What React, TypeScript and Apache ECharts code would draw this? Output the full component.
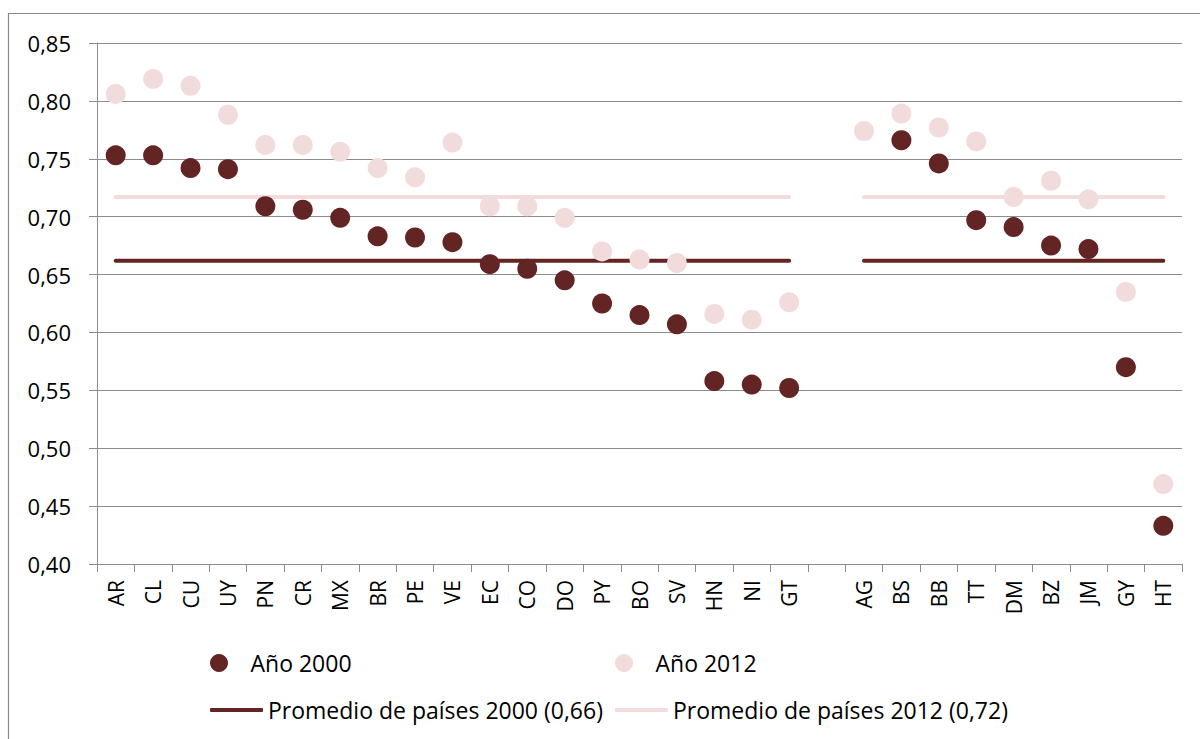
import React, { useEffect, useRef } from "react";
import * as echarts from "echarts";

const categories = ["AR","CL","CU","UY","PN","CR","MX","BR","PE","VE","EC","CO","DO","PY","BO","SV","HN","NI","GT","","AG","BS","BB","TT","DM","BZ","JM","GY","HT"];
const year2000 = [0.753,0.753,0.742,0.741,0.709,0.706,0.699,0.683,0.682,0.678,0.659,0.655,0.645,0.625,0.615,0.607,0.558,0.555,0.552,null,null,0.766,0.746,0.697,0.691,0.675,0.672,0.570,0.433];
const year2012 = [0.806,0.819,0.813,0.788,0.762,0.762,0.756,0.742,0.734,0.764,0.709,0.709,0.699,0.670,0.663,0.660,0.616,0.611,0.626,null,0.774,0.789,0.777,0.765,0.717,0.731,0.715,0.635,0.469];
const avg2000 = 0.662;
const avg2012 = 0.717;
const seriesNames = ["Año 2000", "Año 2012", "Promedio de países 2000 (0,66)", "Promedio de países 2012 (0,72)"];

const DARK = "#632523";
const LIGHT = "#F2DCDB";
const GRID = "#8c8c8c";
const FONT = "Open Sans";

export default function App() {
  const ref = useRef<HTMLDivElement>(null);
  useEffect(() => {
    document.body.style.margin = "0";
    const chart = echarts.init(ref.current!, null, { renderer: "svg" });
    const avgLine = (v: number) => categories.map((c) => (c === "" ? null : v));
    const legendBase = {
      padding: 0,
      selectedMode: false,
      itemWidth: 53,
      itemHeight: 18,
      textStyle: { fontFamily: FONT, fontSize: 23, color: "#000", lineHeight: 24 },
    };
    chart.setOption({
      animation: false,
      textStyle: { fontFamily: FONT },
      graphic: [
        {
          type: "rect",
          shape: { x: 8.5, y: 13.5, width: 1200, height: 740 },
          style: { fill: "none", stroke: "#8a8a8a", lineWidth: 1.2 },
          silent: true,
        },
      ],
      legend: [
        { ...legendBase, data: [{ name: seriesNames[0], icon: "circle" }], left: 210, top: 651 },
        { ...legendBase, data: [{ name: seriesNames[1], icon: "circle" }], left: 615, top: 651 },
        { ...legendBase, itemHeight: 4, data: [{ name: seriesNames[2], icon: "roundRect" }], left: 210, top: 698 },
        { ...legendBase, itemHeight: 4, data: [{ name: seriesNames[3], icon: "roundRect" }], left: 615, top: 698 },
      ],
      grid: { left: 97, right: 18, top: 43, height: 521 },
      xAxis: {
        type: "category",
        data: categories,
        boundaryGap: true,
        axisLine: { show: true, lineStyle: { color: GRID, width: 1 } },
        axisTick: { show: true, interval: 0, length: 8, lineStyle: { color: GRID } },
        axisLabel: { interval: 0, rotate: 90, fontSize: 21, color: "#000", fontFamily: FONT, margin: 16 },
        splitLine: { show: false },
      },
      yAxis: {
        type: "value",
        min: 0.4,
        max: 0.85,
        interval: 0.05,
        axisLine: { show: true, lineStyle: { color: GRID, width: 1 } },
        axisTick: { show: true, length: 8, lineStyle: { color: GRID } },
        axisLabel: {
          fontSize: 22,
          color: "#000",
          fontFamily: FONT,
          margin: 26,
          formatter: (v: number) => v.toFixed(2).replace(".", ","),
        },
        splitLine: { show: true, lineStyle: { color: GRID, width: 1 } },
      },
      series: [
        {
          name: seriesNames[2],
          type: "line",
          data: avgLine(avg2000),
          symbol: "none",
          connectNulls: false,
          lineStyle: { color: DARK, width: 4, cap: "round" },
          itemStyle: { color: DARK },
          z: 2,
        },
        {
          name: seriesNames[3],
          type: "line",
          data: avgLine(avg2012),
          symbol: "none",
          connectNulls: false,
          lineStyle: { color: LIGHT, width: 4, cap: "round" },
          itemStyle: { color: LIGHT },
          z: 2,
        },
        {
          name: seriesNames[1],
          type: "scatter",
          data: year2012,
          symbol: "circle",
          symbolSize: 20,
          itemStyle: { color: LIGHT, opacity: 1 },
          z: 3,
        },
        {
          name: seriesNames[0],
          type: "scatter",
          data: year2000,
          symbol: "circle",
          symbolSize: 20,
          itemStyle: { color: DARK, opacity: 1 },
          z: 4,
        },
      ],
    });
    return () => chart.dispose();
  }, []);
  return <div ref={ref} style={{ width: 1200, height: 739 }} />;
}
